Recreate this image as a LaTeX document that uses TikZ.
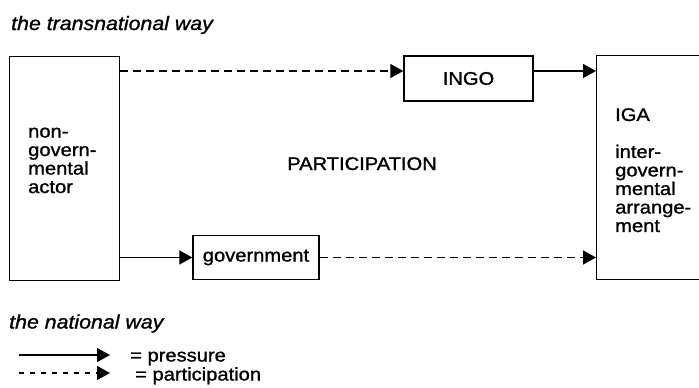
\documentclass[tikz,border=0pt]{standalone}
\usepackage{fontspec}
\setmainfont{Liberation Sans}[FakeStretch=1.1,FakeBold=1.2]
\usetikzlibrary{arrows.meta}

\begin{document}
\begin{tikzpicture}[x=1pt,y=-1pt,>={Triangle[length=13pt,width=14pt]},font=\fontsize{18.3}{18.5}\selectfont]
			\tikzset{box/.style={draw,line width=1.4pt,inner sep=0pt},
				press/.style={->,line width=1.4pt},
				partic/.style={->,line width=1.4pt,dash pattern=on 8pt off 5pt},
				way/.style={anchor=base west,inner sep=0pt,font=\fontsize{19.4}{21}\selectfont\itshape}}
			\useasboundingbox (0,0) rectangle (699,388);
			\node[way] (trans) at (11,30) {the transnational way};
			\node[way] (nat) at (9,328.5) {the national way};
			\node[box,anchor=north west,minimum width=110pt,minimum height=224pt] (actor) at (9,56) {};
			\node[box,anchor=north west,minimum width=130pt,minimum height=224pt] (iga) at (596,55) {};
			\node[box,minimum width=129pt,minimum height=45pt] (ingo) at (468.5,78.5) {INGO};
			\node[box,minimum width=126pt,minimum height=44pt] (gov) at (256,257.5) {government};
			\node[anchor=north west,inner sep=0pt,align=left] (actortxt) at (28,127.5) {non-\\govern-\\mental\\actor};
			\node[anchor=north west,inner sep=0pt,align=left] (igatxt) at (615,108) {IGA\\[18.5pt]inter-\\govern-\\mental\\arrange-\\ment};
			\node[anchor=base,inner sep=0pt] (part) at (362,170) {PARTICIPATION};
			\coordinate (top) at ([yshift=7.5pt]ingo.west);
			\draw[partic] (actor.east |- top) -- (top);
			\draw[press] (ingo.east |- top) -- (iga.west |- top);
			\draw[press] (actor.east |- gov.west) -- (gov.west);
			\draw[partic] (gov.east) -- (iga.west |- gov.east);
			% legend
			\coordinate (pa) at (19,355); \coordinate (pb) at (110,355);
			\coordinate (qa) at (19,373); \coordinate (qb) at (110,373);
			\draw[press] (pa) -- (pb);
			\draw[partic,dash pattern=on 5pt off 6pt] (qa) -- (qb);
			\node[anchor=base west,inner sep=0pt] (plabel) at (130,361.5) {= pressure};
			\node[anchor=base west,inner sep=0pt] (qlabel) at (135,380.5) {= participation};
	\end{tikzpicture}
\end{document}
